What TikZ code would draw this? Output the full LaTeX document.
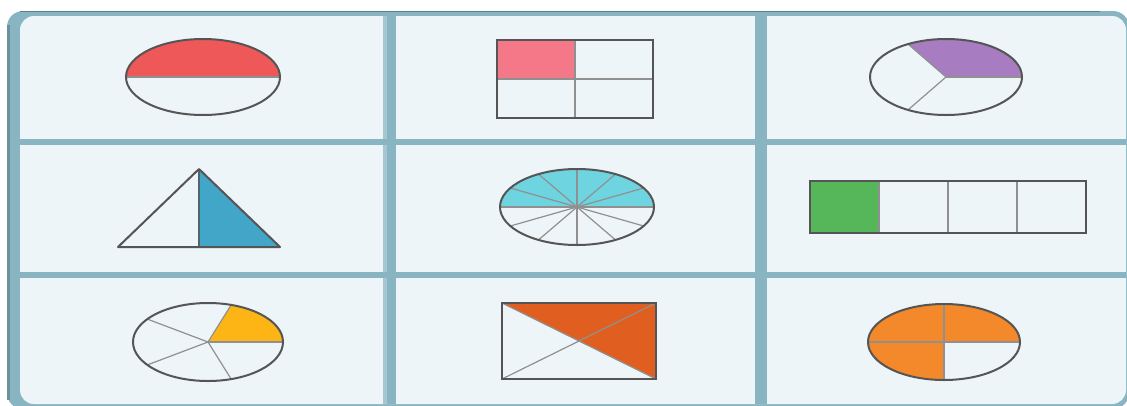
\documentclass[tikz,border=0pt]{standalone}
\usepackage{xcolor}
\usepackage{tikz}
\definecolor{cadre}{RGB}{136,181,193}
\definecolor{fond}{RGB}{237,245,248}
\definecolor{trait}{RGB}{85,85,85}
\definecolor{rouge}{RGB}{238,88,88}
\definecolor{rose}{RGB}{244,120,136}
\definecolor{mauve}{RGB}{168,124,192}
\definecolor{bleu}{RGB}{66,166,200}
\definecolor{turquoise}{RGB}{110,212,224}
\definecolor{vert}{RGB}{86,182,90}
\definecolor{jaune}{RGB}{253,181,21}
\definecolor{rouille}{RGB}{224,95,32}
\definecolor{orangeclair}{RGB}{243,137,43}

\begin{document}
\begin{tikzpicture}[x=1pt,y=-1pt,
    contour/.style={draw=trait,line width=2pt},
    rayon/.style={draw=trait!65,line width=1.2pt}]
  \useasboundingbox (0,0) rectangle (1127,405);
  \clip (0,0) rectangle (1127,405);
  % cadre et grille
  \fill[cadre,rounded corners=16pt](7,11) rectangle (1129,409);
  \draw[cadre!70!black,line width=1pt](20,11.5)--(1100,11.5);
  \draw[cadre!80!black,line width=3pt](8.5,25)--(8.5,400);
  \fill[fond,rounded corners=14pt](20,16) rectangle (1126,404);
  \draw[cadre!75,line width=4pt](385,16)--(385,404);
  \draw[cadre,line width=9pt](391.5,16)--(391.5,404);
  \draw[cadre,line width=12pt](761,16)--(761,404);
  \draw[cadre,line width=6pt](20,141.5)--(1126,141.5);
  \draw[cadre,line width=6pt](20,275)--(1126,275);
  \coordinate (c1) at (203,77);
  \coordinate (c2) at (575,79);
  \coordinate (c3) at (946,77);
  \coordinate (c4) at (199,208);
  \coordinate (c5) at (577,207);
  \coordinate (c6) at (948,207);
  \coordinate (c7) at (208,342);
  \coordinate (c8) at (579,341);
  \coordinate (c9) at (944,342);
  % 1/2 ellipse
  \begin{scope}[shift={(c1)}]
    \fill[rouge](77pt,0pt) arc[start angle=0,end angle=180,x radius=77pt,y radius=38pt]--cycle;
    \draw[rayon](-77pt,0pt)--(77pt,0pt);
    \draw[contour](0,0) ellipse[x radius=77pt,y radius=38pt];
  \end{scope}
  % 1/4 rectangle
  \begin{scope}[shift={(c2)}]
    \fill[rose](-78,-39) rectangle (0,0);
    \draw[rayon](-78,0)--(78,0) (0,-39)--(0,39);
    \draw[contour](-78,-39) rectangle (78,39);
  \end{scope}
  % 1/3 ellipse
  \begin{scope}[shift={(c3)}]
    \fill[mauve](0,0)--(76pt,0pt) arc[start angle=0,end angle=120,x radius=76pt,y radius=38pt]--cycle;
    \foreach \a in {0,120,240}
      \draw[rayon](0,0)--(\a:76pt and 38pt);
    \draw[contour](0,0) ellipse[x radius=76pt,y radius=38pt];
  \end{scope}
  % 1/2 triangle
  \begin{scope}[shift={(c4)}]
    \fill[bleu](0,-39)--(81,39)--(0,39)--cycle;
    \draw[trait!80!bleu,line width=2.5pt](0,-39)--(0,39);
    \draw[contour,line join=round](-81,39)--(0,-39)--(81,39)--cycle;
  \end{scope}
  % 6/12 ellipse
  \begin{scope}[shift={(c5)}]
    \fill[turquoise](77pt,0pt) arc[start angle=0,end angle=180,x radius=77pt,y radius=38pt]--cycle;
    \foreach \a in {0,30,...,330}
      \draw[rayon](0,0)--(\a:77pt and 38pt);
    \draw[contour](0,0) ellipse[x radius=77pt,y radius=38pt];
  \end{scope}
  % 1/4 barre
  \begin{scope}[shift={(c6)}]
    \fill[vert](-138,-26) rectangle (-69,26);
    \foreach \x in {-69,0,69}
      \draw[rayon](\x,-26)--(\x,26);
    \draw[contour](-138,-26) rectangle (138,26);
  \end{scope}
  % 1/5 ellipse
  \begin{scope}[shift={(c7)}]
    \fill[jaune](0,0)--(75pt,0pt) arc[start angle=0,end angle=72,x radius=75pt,y radius=39pt]--cycle;
    \foreach \a in {0,72,...,288}
      \draw[rayon](0,0)--(\a:75pt and 39pt);
    \draw[contour](0,0) ellipse[x radius=75pt,y radius=39pt];
  \end{scope}
  % 2/4 rectangle
  \begin{scope}[shift={(c8)}]
    \fill[rouille](-77,-38)--(77,-38)--(77,38)--cycle;
    \draw[rayon](-77,-38)--(77,38) (-77,38)--(77,-38);
    \draw[contour](-77,-38) rectangle (77,38);
  \end{scope}
  % 3/4 ellipse
  \begin{scope}[shift={(c9)}]
    \fill[orangeclair](0,0)--(76pt,0pt) arc[start angle=0,end angle=270,x radius=76pt,y radius=38pt]--cycle;
    \draw[rayon](-76pt,0pt)--(76pt,0pt) (0pt,-38pt)--(0pt,38pt);
    \draw[contour](0,0) ellipse[x radius=76pt,y radius=38pt];
  \end{scope}
\end{tikzpicture}
\end{document}
